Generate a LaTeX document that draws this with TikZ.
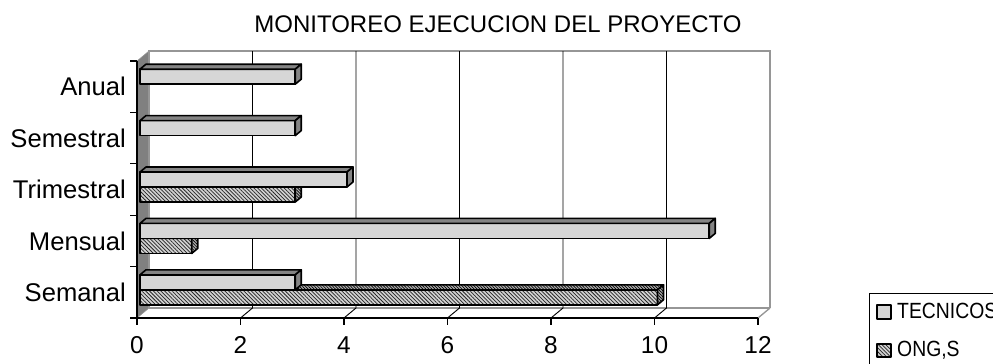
\documentclass[tikz,border=0pt]{standalone}
\usepackage{fontspec}
\setmainfont{Liberation Sans}
\usetikzlibrary{patterns,patterns.meta}
\definecolor{wallgray}{RGB}{128,128,128}
\definecolor{edgegray}{RGB}{150,150,150}
\tikzset{
  barline/.style={draw=black, line width=1.2pt, line join=round},
  tecf/.style={barline, preaction={fill=gray!22}, pattern={Dots[distance=1.5pt,radius=0.35pt]}, pattern color=gray!60!black},
  tect/.style={barline, preaction={fill=gray!65}, pattern={Dots[distance=1.5pt,radius=0.45pt]}, pattern color=black},
  ongf/.style={barline, preaction={fill=gray!35}, pattern={Lines[angle=-45,distance=2pt,line width=0.55pt]}, pattern color=black!85},
  ongt/.style={barline, preaction={fill=gray!65}, pattern={Lines[angle=-45,distance=1.6pt,line width=0.5pt]}, pattern color=black},
  wall/.style={draw=edgegray, line width=1pt},
  axisline/.style={draw=black, line width=0.9pt},
  grid/.style={draw=black, line width=0.7pt},
  catlabel/.style={anchor=east, inner sep=0pt, font=\fontsize{19.2}{21}\selectfont},
  ticklabel/.style={inner sep=0pt, font=\fontsize{18.3}{20}\selectfont},
  legtext/.style={anchor=west, inner sep=0pt, xscale=0.88, font=\fontsize{16.5}{18}\selectfont},
}
% #1 = top y of front face, #2 = value, #3 front style, #4 top/side style
\newcommand\drawbarbox[4]{%
  \path[#3] (140,#1) rectangle ({140+51.75*#2},#1+15);
  \path[#4] (140,#1) -- (146,#1-5) -- ({146+51.75*#2},#1-5) -- ({140+51.75*#2},#1) -- cycle;
  \path[#4] ({140+51.75*#2},#1) -- ({146+51.75*#2},#1-5) -- ({146+51.75*#2},#1+10) -- ({140+51.75*#2},#1+15) -- cycle;
}
\begin{document}
\begin{tikzpicture}[x=0.75pt,y=-0.75pt]
\useasboundingbox (0,0) rectangle (993,364);
\clip (0,0) rectangle (993,364);
\fill[white] (0,0) rectangle (993,364);

% title
\node[inner sep=0pt, font=\fontsize{18}{20}\selectfont] (title) at (498,24) {MONITOREO EJECUCION DEL PROYECTO};

% left side wall
\path[fill=wallgray, draw=edgegray] (137,61) -- (149,51) -- (149,308) -- (137,318) -- cycle;
% back wall
\draw[wall] (149,308) -- (149,51) -- (770,51) -- (770,308);
\draw[wall] (149,308) -- (770,308);
% floor right edge
\draw[wall] (758,318) -- (770,308);

% grid lines
\foreach \k in {1,...,5} {
  \draw[grid] ({149+103.5*\k},51) -- ({149+103.5*\k},308) -- ({137+103.5*\k},318);
}

% axes
\draw[axisline] (137,61) -- (137,318) -- (758,318);
\foreach \k in {0,...,6} {
  \draw[axisline] ({137+103.5*\k},318) -- ({137+103.5*\k},325);
}
\foreach \y in {61,112.4,163.8,215.2,266.6,318} {
  \draw[axisline] (130,\y) -- (137,\y);
}

% tick labels
\foreach \k/\v in {0/0,1/2,2/4,3/6,4/8,5/10,6/12} {
  \node[ticklabel] (t\k) at ({137+103.5*\k},345) {\v};
}

% category labels
\node[catlabel] (c0) at (126,292.3) {Semanal};
\node[catlabel] (c1) at (126,240.9) {Mensual};
\node[catlabel] (c2) at (126,189.5) {Trimestral};
\node[catlabel] (c3) at (126,138.1) {Semestral};
\node[catlabel] (c4) at (126,86.7) {Anual};

% bars (ONG,S first, then TECNICOS)
% Semanal
\drawbarbox{289.8}{10}{ongf}{ongt}
\drawbarbox{274.8}{3}{tecf}{tect}
% Mensual
\drawbarbox{238.4}{1}{ongf}{ongt}
\drawbarbox{223.4}{11}{tecf}{tect}
% Trimestral
\drawbarbox{187}{3}{ongf}{ongt}
\drawbarbox{172}{4}{tecf}{tect}
% Semestral
\drawbarbox{120.6}{3}{tecf}{tect}
% Anual
\drawbarbox{69.2}{3}{tecf}{tect}

% legend
\draw[black, line width=0.7pt, fill=white] (869,293) rectangle (1000,372);
\path[tecf, line width=0.8pt] (877,305) rectangle (891,319);
\path[ongf, line width=0.8pt] (877,344) rectangle (891,357);
\node[legtext] (lt) at (897,311) {TECNICOS};
\node[legtext] (lo) at (897,350) {ONG,S};
\end{tikzpicture}
\end{document}
